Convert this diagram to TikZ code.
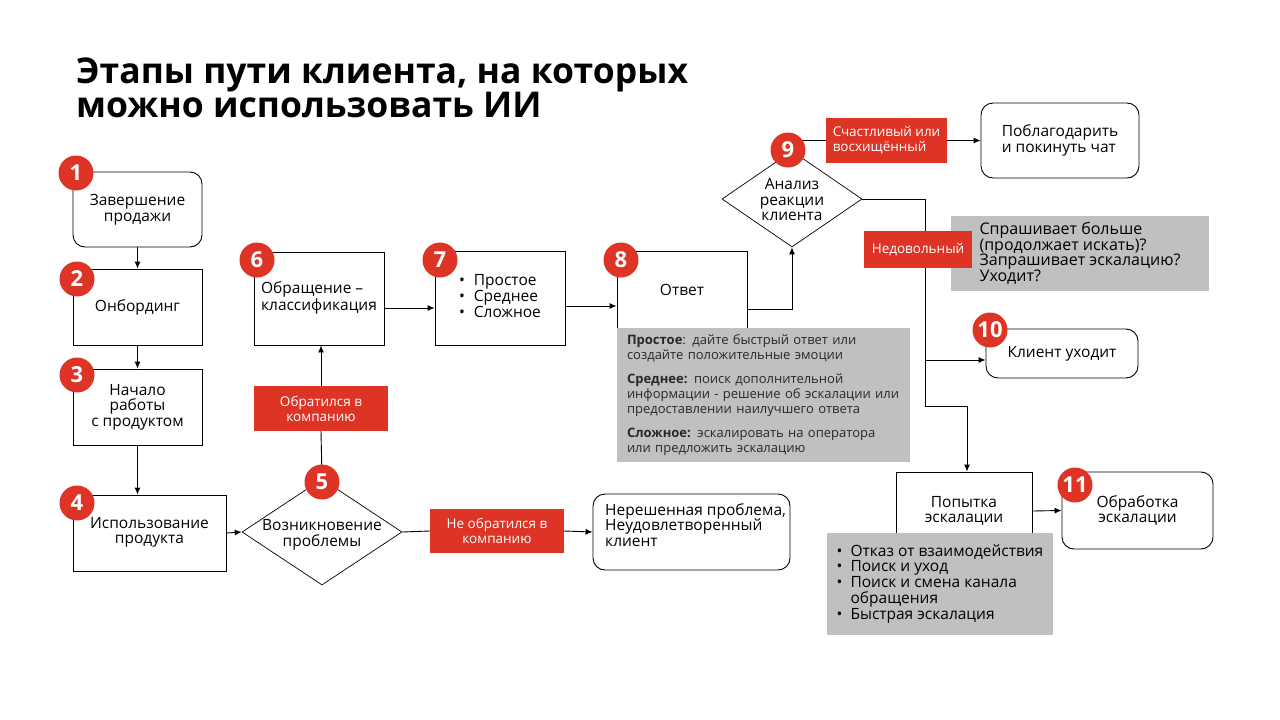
\documentclass[tikz,border=0pt]{standalone}
\usepackage{fontspec}
\setmainfont{Open Sans}
\usetikzlibrary{shapes.geometric,arrows.meta,calc}
\definecolor{myred}{RGB}{221,52,38}
\definecolor{mygray}{RGB}{192,192,192}
\definecolor{gtext}{RGB}{40,40,40}
\pgfdeclarelayer{bg}
\pgfsetlayers{bg,main}
\begin{document}
\begin{tikzpicture}[x=1pt,y=-1pt,
  box/.style={draw=black, line width=0.9pt, fill=white, inner sep=2pt, align=center,
    font=\fontsize{15.5}{15.5}\selectfont},
  rbox/.style={box, rounded corners=12pt},
  dia/.style={diamond, draw=black, line width=0.7pt, fill=white, inner sep=0pt},
  txt/.style={align=center, font=\fontsize{15.5}{15.5}\selectfont, inner sep=0pt},
  redlbl/.style={fill=myred, text=white, align=center, inner sep=0pt,
    font=\fontsize{13.5}{15}\selectfont},
  graybox/.style={fill=mygray, inner sep=0pt, text=gtext},
  num/.style={circle, fill=myred, text=white, minimum size=35pt, inner sep=0pt,
    font=\fontsize{22}{22}\selectfont\bfseries},
  arr/.style={-{Latex[length=7pt,width=6pt]}, line width=0.9pt},
  conn/.style={line width=0.9pt}
]
\useasboundingbox (0,0) rectangle (1280,720);

% title
\node[anchor=base west, inner sep=0pt, font=\fontsize{35.5}{38}\selectfont\bfseries] (title1) at (76,83) {Этапы пути клиента, на которых};
\node[anchor=base west, inner sep=0pt, font=\fontsize{35.5}{38}\selectfont\bfseries] (title2) at (76,117) {можно использовать ИИ};

% left column
\node[rbox, minimum width=129, minimum height=75] (n1) at (137.5,209.5) {Завершение\\продажи};
\node[box, minimum width=129, minimum height=76] (n2) at (137.5,307) {Онбординг};
\node[box, minimum width=129, minimum height=76] (n3) at (137.5,407) {Начало\\работы\\с продуктом};
\node[box, minimum width=153, minimum height=76] (n4) at (149.5,533) {\raisebox{-6pt}{\begin{tabular}{@{}c@{}}Использование\\продукта\end{tabular}}};

% problem diamond
\node[dia, minimum width=160, minimum height=106] (d5) at (322,532) {};
\node[txt] (t5) at (322,535) {Возникновение\\проблемы};

\node[redlbl, minimum width=134, minimum height=45] (lblA) at (321,408.5) {Обратился в\\компанию};
\node[redlbl, minimum width=134, minimum height=44] (lblNo) at (497,531) {Не обратился в\\компанию};
\node[rbox, minimum width=197, minimum height=76] (n5b) at (691.5,532) {};
\node[txt, anchor=north west, align=left] (t5b) at (605,503) {Нерешенная проблема,\\Неудовлетворенный\\клиент};

% middle row
\node[box, minimum width=130, minimum height=93] (n6) at (319,298.5) {\raisebox{-3pt}{\begin{tabular}{@{}l@{}}Обращение –\\классификация\end{tabular}}};
\node[box, minimum width=130, minimum height=94] (n7) at (500,298) {\begin{tabular}{@{}l@{\hspace{9pt}}l@{}}\textbullet&Простое\\\textbullet&Среднее\\\textbullet&Сложное\end{tabular}};
\node[box, minimum width=130, minimum height=78] (n8) at (682,290) {Ответ};
\node[graybox, minimum width=293, minimum height=134, text width=273, align=left,
  font=\fontsize{13}{15}\selectfont] (g8) at (763.5,395)
  {\textbf{Простое}: дайте быстрый ответ или\\создайте положительные эмоции\\[9pt]
   \textbf{Среднее:} поиск дополнительной\\информации - решение об эскалации или\\предоставлении наилучшего ответа\\[9pt]
   \textbf{Сложное:} эскалировать на оператора\\или предложить эскалацию};

% reaction diamond
\node[dia, minimum width=140, minimum height=96] (d9) at (792,199) {};
\node[txt] (t9) at (792,200) {Анализ\\реакции\\клиента};
\node[redlbl, align=left, minimum width=121, minimum height=45] (lblH) at (886.5,140.5) {Счастливый или\\восхищённый};
\node[rbox, minimum width=158, minimum height=75, align=left] (nthank) at (1060,140.5) {Поблагодарить\\и покинуть чат};

\node[graybox, minimum width=258, minimum height=75, align=left, text=black,
  font=\fontsize{16}{15.5}\selectfont] (gQ) at (1080,253.5)
  {Спрашивает больше\\(продолжает искать)?\\Запрашивает эскалацию?\\Уходит?};
\node[redlbl, minimum width=108, minimum height=37] (lblN) at (918,249.5) {Недовольный};

\node[rbox, minimum width=152, minimum height=49] (n10) at (1062,353.5) {Клиент уходит};

\node[box, minimum width=136, minimum height=78] (n12) at (964,511) {Попытка\\эскалации};
\node[graybox, minimum width=226, minimum height=102, text=black, align=left,
  font=\fontsize{15.5}{15.5}\selectfont] (g12) at (940,584)
  {\renewcommand{\arraystretch}{0.95}\begin{tabular}{@{}l@{\hspace{8pt}}l@{}}\textbullet&Отказ от взаимодействия\\\textbullet&Поиск и уход\\\textbullet&Поиск и смена канала\\&обращения\\\textbullet&Быстрая эскалация\end{tabular}};
\node[rbox, minimum width=151, minimum height=77] (n11) at (1137.5,510.5) {Обработка\\эскалации};

% junction points
\coordinate (j1) at (925,199);
\coordinate (j2) at (925,406);
\coordinate (j3) at (967,406);
\coordinate (j4) at (925,360);

% numbers
\node[num] (c1) at (76,173) {1};
\node[num] (c2) at (77,279) {2};
\node[num] (c3) at (77,375) {3};
\node[num] (c4) at (77,503) {4};
\node[num] (c5) at (322,482) {5};
\node[num] (c6) at (257,260) {6};
\node[num] (c7) at (440,260) {7};
\node[num] (c8) at (621,260) {8};
\node[num] (c9) at (788,150) {9};
\node[num] (c10) at (990,330) {10};
\node[num] (c11) at (1075,485) {11};

% connectors
\begin{pgfonlayer}{bg}
\fill[white] (0,0) rectangle (1280,720);
\draw[arr] (n1.south) -- (n2.north);
\draw[arr] (n2.south) -- (n3.north);
\draw[arr] (n3.south) -- (n3.south |- n4.north);
\draw[arr] (n4.east) -- (d5.west);
\draw[conn] (d5.north) -- (lblA.south);
\draw[arr] (lblA.north) -- (lblA.north |- n6.south);
\draw[conn] (d5.east) -- (lblNo.west);
\draw[arr] (lblNo.east) -- (n5b.west);
\draw[arr] ([yshift=-9.5pt]n6.east) -- ([yshift=-9.5pt]n6.east -| n7.west);
\draw[arr] ([yshift=-8pt]n7.east) -- ([yshift=-8pt]n7.east -| n8.west);
\draw[arr] ([yshift=-19pt]n8.east) -| (d9.south);
\draw[conn] (lblH.west) -- (lblH.west -| c9);
\draw[arr] (lblH.east) -- (nthank.west);
\draw[conn] (d9.east) -- (j1) -- (j2) -- (j3);
\draw[arr] (j3) -- (j3 |- n12.north);
\draw[arr] (j4) -- (j4 -| n10.west);
\draw[arr] (n12.east) -- (n11.west);
\end{pgfonlayer}
\end{tikzpicture}
\end{document}
